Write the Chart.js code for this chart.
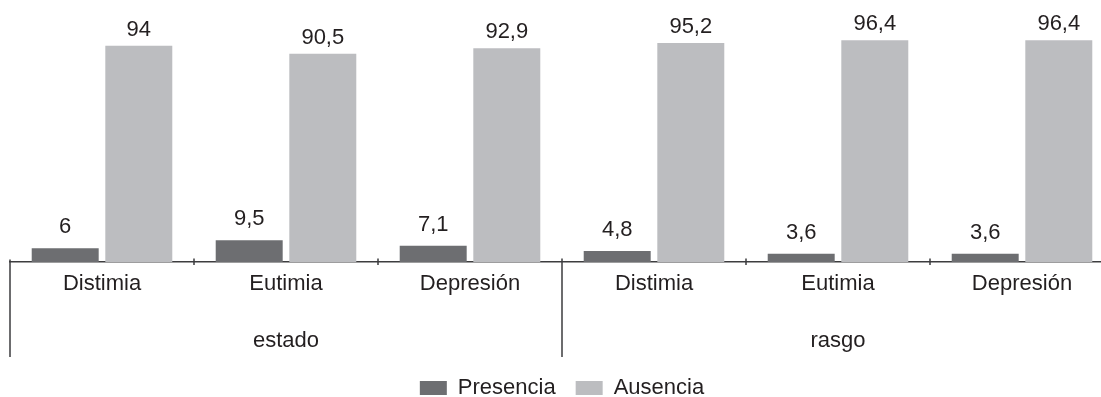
<!DOCTYPE html>
<html>
<head>
<meta charset="utf-8">
<script src="https://cdn.jsdelivr.net/npm/chart.js@4/dist/chart.umd.min.js"></script>
<style>
  html, body { margin: 0; padding: 0; background: #ffffff; overflow: hidden; }
  #wrap { position: relative; width: 1118px; height: 409px; }
</style>
</head>
<body>
<div id="wrap"><canvas id="chart"></canvas></div>
<script>
// Categories on the axis and the two groups beneath them
const categories = ['Distimia', 'Eutimia', 'Depresión', 'Distimia', 'Eutimia', 'Depresión'];
const groups = ['estado', 'rasgo'];

// Percentages per category
const presencia = [6, 9.5, 7.1, 4.8, 3.6, 3.6];
const ausencia = [94, 90.5, 92.9, 95.2, 96.4, 96.4];

const TEXT = '#231f20';
const LINE = '#3d3d3f';
const FONT_FAMILY = '"Liberation Sans", Arial, sans-serif';
const FONT = { family: FONT_FAMILY, size: 22 };

// Decimal comma, as in the printed values
const fmt = v => String(v).replace('.', ',');

// Value labels above each bar
const valueLabels = {
  id: 'valueLabels',
  afterDatasetsDraw(chart, args, opts) {
    const { ctx } = chart;
    ctx.save();
    ctx.font = '22px ' + FONT_FAMILY;
    ctx.fillStyle = TEXT;
    ctx.textAlign = 'center';
    ctx.textBaseline = 'alphabetic';
    chart.data.datasets.forEach((ds, di) => {
      const meta = chart.getDatasetMeta(di);
      meta.data.forEach((bar, i) => {
        ctx.fillText(fmt(ds.data[i]), bar.x, bar.y - opts.gaps[di]);
      });
    });
    ctx.restore();
  }
};

// Small marks between categories and the long group separators
const axisFrame = {
  id: 'axisFrame',
  afterDraw(chart) {
    const { ctx, chartArea, scales } = chart;
    const x = scales.x, g = scales.groups;
    const base = chartArea.bottom;
    ctx.save();
    ctx.strokeStyle = LINE;
    ctx.lineWidth = 1.5;
    ctx.beginPath();
    for (let i = 1; i < categories.length; i++) {
      const bx = (x.getPixelForTick(i - 1) + x.getPixelForTick(i)) / 2;
      ctx.moveTo(bx, base - 3.5);
      ctx.lineTo(bx, base + 3);
    }
    const half = (g.getPixelForTick(1) - g.getPixelForTick(0)) / 2;
    for (let i = 0; i <= groups.length; i++) {
      const gx = g.getPixelForTick(0) - half + i * 2 * half;
      ctx.moveTo(gx, base - 2.5);
      ctx.lineTo(gx, g.bottom);
    }
    ctx.stroke();
    ctx.restore();
  }
};

new Chart(document.getElementById('chart'), {
  type: 'bar',
  data: {
    labels: categories,
    datasets: [
      { label: 'Presencia', data: presencia, backgroundColor: '#6d6e71', borderWidth: 0 },
      { label: 'Ausencia', data: ausencia, backgroundColor: '#bcbdc0', borderWidth: 0 }
    ]
  },
  options: {
    responsive: true,
    maintainAspectRatio: false,
    animation: false,
    devicePixelRatio: 1,
    categoryPercentage: 0.8,
    barPercentage: 0.91,
    layout: { padding: { top: 32, left: 10, right: 4, bottom: 0 } },
    scales: {
      x: {
        offset: true,
        grid: { display: false, drawTicks: false, tickLength: 0 },
        border: { display: true, color: LINE, width: 1.5 },
        ticks: { font: FONT, color: TEXT, padding: 9, maxRotation: 0, autoSkip: false },
        afterFit(s) { s.height = 50; }
      },
      groups: {
        axis: 'x',
        type: 'category',
        position: 'bottom',
        labels: groups,
        offset: true,
        grid: { display: false, drawTicks: false, tickLength: 0 },
        border: { display: false },
        ticks: { font: FONT, color: TEXT, padding: 16, maxRotation: 0, autoSkip: false },
        afterFit(s) { s.height = 45; }
      },
      y: { display: false, min: 0, max: 100 }
    },
    plugins: {
      legend: {
        position: 'bottom',
        labels: { boxWidth: 27, boxHeight: 14, padding: 20, font: FONT, color: TEXT }
      },
      tooltip: { enabled: false },
      valueLabels: { gaps: [15, 10] }
    }
  },
  plugins: [valueLabels, axisFrame]
});
</script>
</body>
</html>
